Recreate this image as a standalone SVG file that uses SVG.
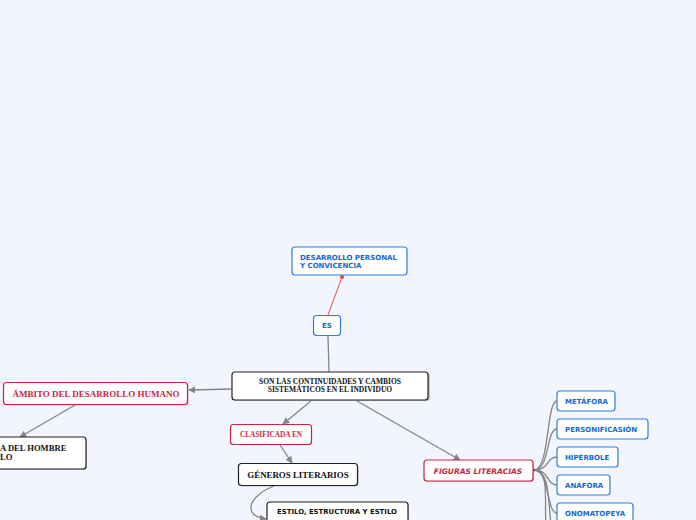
<svg xmlns="http://www.w3.org/2000/svg" width="696" height="520" viewBox="0 0 696 520">
<style>
.bg{fill:#f3f5fe}
.box{fill:#ffffff;stroke-width:1.2}
.blue{stroke:#2b7de3}
.red{stroke:#c9243f}
.blk{stroke:#222222}
.sh{fill:#9aa0aa;opacity:0.6}
.tb{font-family:"DejaVu Sans",sans-serif;font-weight:bold;font-size:7px;fill:#1466d8}
.tr{font-family:"Liberation Serif",serif;font-weight:bold;fill:#c9243f}
.tk{font-family:"Liberation Serif",serif;font-weight:bold;fill:#111111}
.ts{font-family:"DejaVu Sans",sans-serif;font-weight:bold;fill:#111111}
.con{fill:none;stroke:#858585;stroke-width:1.3}
</style>
<defs>
<marker id="ah" viewBox="0 0 10 10" refX="9" refY="5" markerWidth="7" markerHeight="7" orient="auto" markerUnits="userSpaceOnUse">
<path d="M0,0 L10,5 L0,10 z" fill="#858585"/>
</marker>
</defs>
<rect class="bg" x="0" y="0" width="696" height="520"/>

<g id="connectors">
<path d="M328,315 L342,277" fill="none" stroke="#e8453c" stroke-width="1"/>
<circle cx="342" cy="277" r="2" fill="#e8453c"/>
<path class="con" d="M328,336 L329,372"/>
<path class="con" d="M231,389 L189,390" marker-end="url(#ah)"/>
<path class="con" d="M75,405 L20,437" marker-end="url(#ah)"/>
<path class="con" d="M311,401 L283,424" marker-end="url(#ah)"/>
<path class="con" d="M280,445 L292,463" marker-end="url(#ah)"/>
<path class="con" d="M274,486 C248,496 242,516 266,519" marker-end="url(#ah)"/>
<path class="con" d="M357,401 L460,460" marker-end="url(#ah)"/>
<path class="con" d="M534,470 C550,470 546,401 557,401"/>
<path class="con" d="M534,470 C550,470 546,429 557,429"/>
<path class="con" d="M534,470 C550,470 546,457 557,457"/>
<path class="con" d="M534,470 C550,470 546,485 557,485"/>
<path class="con" d="M534,470 C550,470 546,513 557,513"/>
<path class="con" d="M534,470 C550,470 544,500 546,525"/>
<path class="con" d="M534,470 C550,470 548,500 551,525"/>
<circle cx="534" cy="470" r="1.5" fill="#666"/>
</g>

<g id="n-desarrollo">
<rect class="box blue" x="292" y="247" width="115" height="28" rx="3"/>
<text class="tb" x="300" y="260">DESARROLLO PERSONAL</text>
<text class="tb" x="300" y="268">Y CONVICENCIA</text>
</g>

<g id="n-es">
<rect class="box blue" x="313.5" y="315.5" width="27" height="20" rx="3"/>
<text class="tb" x="327" y="328" text-anchor="middle">ES</text>
</g>

<g id="n-main">
<rect class="sh" x="233" y="373" width="197" height="28" rx="3"/>
<rect class="box blk" x="232" y="372" width="196" height="28" rx="3"/>
<text class="tk" x="330" y="384" font-size="7.5" text-anchor="middle">SON LAS CONTINUIDADES Y CAMBIOS</text>
<text class="tk" x="330" y="392" font-size="7.5" text-anchor="middle">SISTEMÁTICOS EN EL INDIVIDUO</text>
</g>

<g id="n-ambito">
<rect class="sh" x="4.5" y="383.5" width="184" height="22" rx="3"/>
<rect class="box red" x="3.5" y="382.5" width="184" height="22" rx="3"/>
<text class="tr" x="96" y="396.5" font-size="9" text-anchor="middle">ÁMBITO DEL DESARROLLO HUMANO</text>
</g>

<g id="n-hombre">
<rect class="sh" x="-9" y="438" width="96" height="32" rx="3"/>
<rect class="box blk" x="-10" y="437" width="96" height="32" rx="3"/>
<text class="tk" x="0" y="451" font-size="8.6">A DEL HOMBRE</text>
<text class="tk" x="0" y="460" font-size="8.6">LO</text>
</g>

<g id="n-clasificada">
<rect class="sh" x="231" y="425" width="81" height="20" rx="3"/>
<rect class="box red" x="230.5" y="424.5" width="81" height="20" rx="3"/>
<text class="tr" x="271" y="437" font-size="7.3" text-anchor="middle">CLASIFICADA EN</text>
</g>

<g id="n-generos">
<rect class="sh" x="239.5" y="464.5" width="119" height="22" rx="3"/>
<rect class="box blk" x="238.5" y="463.5" width="119" height="22" rx="3"/>
<text class="tk" x="298" y="477.5" font-size="8.9" text-anchor="middle">GÉNEROS LITERARIOS</text>
</g>

<g id="n-estilo">
<rect class="sh" x="268" y="503" width="141" height="24" rx="3"/>
<rect class="box blk" x="267" y="502" width="141" height="24" rx="3"/>
<text class="ts" x="337" y="514" font-size="6.9" text-anchor="middle">ESTILO, ESTRUCTURA Y ESTILO</text>
</g>

<g id="n-figuras">
<rect class="sh" x="425" y="461" width="109" height="21" rx="3"/>
<rect class="box red" x="424" y="460" width="109" height="21" rx="3"/>
<text x="478" y="473.5" text-anchor="middle" font-family="DejaVu Sans, sans-serif" font-weight="bold" font-style="italic" font-size="7.5" fill="#c9243f">FIGURAS LITERACIAS</text>
</g>

<g id="n-metafora">
<rect class="box blue" x="557" y="391" width="58" height="20" rx="3"/>
<text class="tb" x="565" y="403.5">METÁFORA</text>
</g>
<g id="n-personificasion">
<rect class="box blue" x="557" y="419" width="91" height="20" rx="3"/>
<text class="tb" x="565" y="431.5">PERSONIFICASIÓN</text>
</g>
<g id="n-hiperbole">
<rect class="box blue" x="557" y="447" width="61" height="20" rx="3"/>
<text class="tb" x="565" y="459.5">HIPÉRBOLE</text>
</g>
<g id="n-anafora">
<rect class="box blue" x="557" y="475" width="53" height="20" rx="3"/>
<text class="tb" x="565" y="487.5">ANÁFORA</text>
</g>
<g id="n-onomatopeya">
<rect class="box blue" x="557" y="503" width="76" height="20" rx="3"/>
<text class="tb" x="565" y="515.5">ONOMATOPEYA</text>
</g>
</svg>
